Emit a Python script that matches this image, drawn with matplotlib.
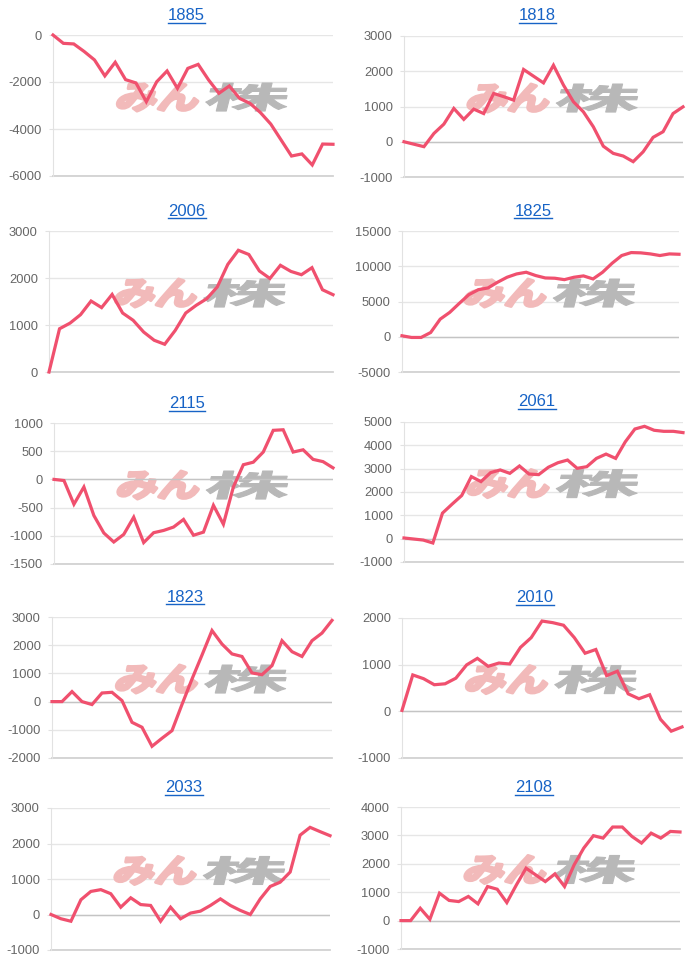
import matplotlib
matplotlib.use('Agg')
import matplotlib.pyplot as plt
from matplotlib.textpath import TextPath
from matplotlib.font_manager import FontProperties
from matplotlib.patches import PathPatch
from matplotlib.transforms import Affine2D
from matplotlib.lines import Line2D

plt.rcParams['font.family'] = ['Liberation Sans', 'DejaVu Sans']
plt.rcParams['axes.unicode_minus'] = False

codes = ['1885', '1818', '2006', '1825', '2115', '2061', '1823', '2010', '2033', '2108']

s1885 = [0, -355, -380, -700, -1060, -1740, -1160, -1900, -2040, -2840, -1990, -1530, -2270, -1420,
         -1250, -1910, -2480, -2170, -2700, -2910, -3300, -3790, -4470, -5150, -5060, -5530, -4640, -4650]
s1818 = [0, -70, -140, 235, 500, 945, 635, 925, 800, 1370, 1280, 1180, 2050, 1860, 1670, 2170, 1610,
         1135, 850, 425, -125, -330, -405, -565, -285, 125, 285, 800, 990]
s2006 = [0, 920, 1040, 1220, 1510, 1370, 1650, 1255, 1100, 850, 675, 590, 885, 1255, 1420, 1560, 1810,
         2290, 2590, 2500, 2150, 1990, 2270, 2140, 2070, 2220, 1750, 1645]
s1825 = [140, -100, -100, 600, 2500, 3460, 4740, 5970, 6680, 6920, 7730, 8440, 8910, 9150, 8680, 8340,
         8300, 8100, 8440, 8630, 8200, 9150, 10430, 11520, 11940, 11900, 11750, 11520, 11750, 11700]
s2115 = [0, -20, -440, -135, -640, -950, -1110, -975, -670, -1120, -945, -905, -845, -710, -990, -935,
         -460, -795, -135, 260, 305, 485, 870, 880, 485, 525, 355, 315, 205]
s2061 = [30, -15, -60, -185, 1095, 1480, 1850, 2660, 2445, 2830, 2945, 2800, 3115, 2770, 2745, 3060,
         3255, 3370, 3015, 3085, 3440, 3625, 3440, 4150, 4700, 4815, 4645, 4600, 4600, 4545]
s1823 = [0, 0, 355, 0, -105, 305, 330, 35, -735, -910, -1585, -1300, -1030, -100, 800, 1650, 2520,
         2040, 1690, 1600, 1015, 955, 1275, 2160, 1770, 1600, 2160, 2430, 2880]
s2010 = [20, 780, 700, 570, 590, 710, 995, 1135, 965, 1035, 1015, 1370, 1580, 1935, 1900, 1845, 1580,
         1245, 1325, 765, 860, 375, 270, 355, -170, -425, -335]
s2033 = [0, -120, -190, 415, 650, 700, 585, 205, 470, 280, 255, -190, 205, -120, 40, 95, 255, 440, 255,
         115, 0, 440, 790, 910, 1195, 2235, 2455, 2335, 2220]
s2108 = [0, 0, 435, 45, 965, 710, 670, 850, 590, 1200, 1105, 635, 1260, 1845, 1610, 1375, 1645, 1200,
         1965, 2555, 2990, 2905, 3295, 3295, 2965, 2730, 3080, 2905, 3140, 3120]

series = [s1885, s1818, s2006, s1825, s2115, s2061, s1823, s2010, s2033, s2108]

# y range: (min, max, step)
yranges = [(-6000, 0, 2000), (-1000, 3000, 1000), (0, 3000, 1000), (-5000, 15000, 5000),
           (-1500, 1000, 500), (-1000, 5000, 1000), (-2000, 3000, 1000), (-1000, 2000, 1000),
           (-1000, 3000, 1000), (-1000, 4000, 1000)]

# plot boxes in pixels: left, right, top, bottom
boxes = [(53, 333, 35, 176), (404, 683, 36, 177),
         (49, 333, 231, 372), (402, 679, 231, 372),
         (54, 333, 423, 564), (404, 683, 422, 562),
         (52, 332, 617, 758), (402, 682, 618, 758),
         (51, 330, 808, 950), (401, 680, 807, 949)]
title_pos = [(186, 16), (537, 16), (187, 211), (533, 211), (187, 404), (537, 402),
             (185, 597), (535, 598), (184, 788), (534, 788)]

W, H = 700, 966
fig = plt.figure(figsize=(7, 9.66), dpi=100)

line_color = '#f0506e'
link_color = '#1763c6'
fp = FontProperties(family='Noto Sans CJK JP', weight='bold')
wm_pink = TextPath((0, 0), 'みん', size=100, prop=fp)
wm_gray = TextPath((0, 0), '株', size=100, prop=fp)


def watermark(ax, path, cx, cy, w, h, color, lw):
    ext = path.get_extents()
    tr = (Affine2D().translate(-ext.x0 - ext.width / 2, -ext.y0 - ext.height / 2)
          .scale(w / ext.width, h / ext.height).skew_deg(14, 0).translate(cx, cy))
    ax.add_patch(PathPatch(path, transform=tr, facecolor=color, edgecolor=color, lw=lw,
                           joinstyle='round', zorder=1))


titles = []
for i, code in enumerate(codes):
    l, r, t, b = boxes[i]
    lo, hi, step = yranges[i]
    vals = series[i]
    ax = fig.add_axes([l / W, 1 - b / H, (r - l) / W, (b - t) / H])
    ax.set_xlim(0, len(vals) - 1)
    ax.set_ylim(lo, hi)
    ax.set_yticks(list(range(lo, hi + 1, step)))
    ax.set_xticks([])
    for s in ['top', 'right', 'bottom']:
        ax.spines[s].set_visible(False)
    ax.spines['left'].set_color('#e2e2e2')
    ax.yaxis.grid(True, color='#e6e6e6', lw=1)
    ax.set_axisbelow(True)
    ax.tick_params(axis='y', length=3, color='#e2e2e2', pad=5, labelsize=9.3, labelcolor='#666666')
    if lo < 0 < hi:
        ax.axhline(0, color='#c4c4c4', lw=1, zorder=1.5)
    ax.axhline(lo, color='#d2d2d2', lw=1.3, zorder=1.5, clip_on=False)

    cx = (l + r) / 2 + 11
    cy = H - (t + (b - t) * 0.44)
    watermark(ax, wm_pink, cx - 45, cy, 80, 28, '#f2baba', 2.2)
    watermark(ax, wm_gray, cx + 44, cy, 82, 28, '#b8b8b8', 0.8)

    ax.plot(range(len(vals)), vals, color=line_color, lw=2.3, solid_joinstyle='miter',
            clip_on=False, zorder=3)

    tx, ty = title_pos[i]
    txt = fig.text(tx / W, 1 - ty / H, code, ha='center', va='center', fontsize=12, color=link_color)
    titles.append(txt)

rend = fig.canvas.get_renderer()
for txt in titles:
    bb = txt.get_window_extent(renderer=rend)
    y = bb.y0 + 1
    fig.add_artist(Line2D([bb.x0 / W, bb.x1 / W], [y / H, y / H], color=link_color, lw=1,
                          transform=fig.transFigure))

fig.savefig('out.png', dpi=100)
